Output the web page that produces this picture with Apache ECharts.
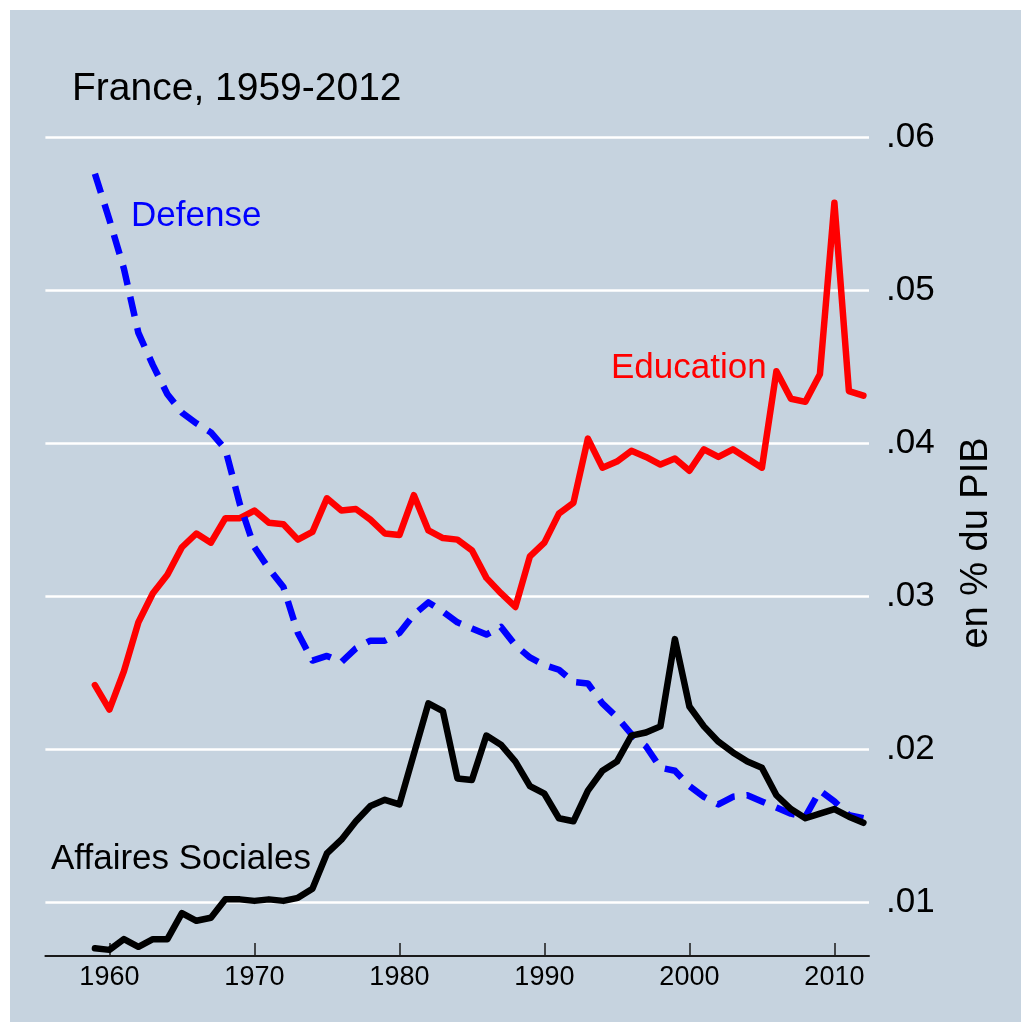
<!DOCTYPE html>
<html>
<head>
<meta charset="utf-8">
<script src="https://cdn.jsdelivr.net/npm/echarts@6/dist/echarts.min.js"></script>
<style>
  html, body { margin: 0; padding: 0; background: #ffffff; }
  #chart { width: 1021px; height: 1032px; }
</style>
</head>
<body>
<div id="chart"></div>
<script>
// ---- Data (share of GDP), France 1959-2012 ----
const years = [1959,1960,1961,1962,1963,1964,1965,1966,1967,1968,1969,1970,1971,1972,1973,1974,1975,1976,1977,1978,1979,1980,1981,1982,1983,1984,1985,1986,1987,1988,1989,1990,1991,1992,1993,1994,1995,1996,1997,1998,1999,2000,2001,2002,2003,2004,2005,2006,2007,2008,2009,2010,2011,2012];

const education = [0.0242,0.0226,0.0251,0.0283,0.0302,0.0314,0.0332,0.0341,0.0335,0.0351,0.0351,0.0356,0.0348,0.0347,0.0337,0.0342,0.0364,0.0356,0.0357,0.0350,0.0341,0.0340,0.0366,0.0343,0.0338,0.0337,0.0330,0.0312,0.0302,0.0293,0.0326,0.0335,0.0354,0.0361,0.0403,0.0384,0.0388,0.0395,0.0391,0.0386,0.0390,0.0382,0.0396,0.0391,0.0396,0.0390,0.0384,0.0447,0.0429,0.0427,0.0445,0.0557,0.0434,0.0431];

const defense = [0.0576,0.0546,0.0514,0.0472,0.0451,0.0432,0.0420,0.0413,0.0407,0.0396,0.0360,0.0332,0.0318,0.0306,0.0276,0.0258,0.0261,0.0257,0.0266,0.0271,0.0271,0.0276,0.0288,0.0296,0.0290,0.0283,0.0279,0.0275,0.0280,0.0268,0.0260,0.0255,0.0252,0.0244,0.0243,0.0230,0.0221,0.0210,0.0202,0.0188,0.0186,0.0176,0.0169,0.0164,0.0169,0.0170,0.0166,0.0162,0.0158,0.0156,0.0173,0.0166,0.0157,0.0155];

const social = [0.0070,0.0069,0.0076,0.0071,0.0076,0.0076,0.0093,0.0088,0.0090,0.0102,0.0102,0.0101,0.0102,0.0101,0.0103,0.0109,0.0132,0.0141,0.0153,0.0163,0.0167,0.0164,0.0197,0.0230,0.0225,0.0181,0.0180,0.0209,0.0203,0.0192,0.0176,0.0171,0.0155,0.0153,0.0173,0.0186,0.0192,0.0209,0.0211,0.0215,0.0272,0.0228,0.0215,0.0205,0.0198,0.0192,0.0188,0.0170,0.0161,0.0155,0.0158,0.0161,0.0156,0.0152];

const xTicks = [1960,1970,1980,1990,2000,2010];
const yTicks = [0.01,0.02,0.03,0.04,0.05,0.06];

const titleText = 'France, 1959-2012';
const yAxisTitle = 'en % du PIB';
const seriesNames = ['Education','Defense','Affaires Sociales'];

// ---- Chart ----
const FONT = '"Liberation Sans", Arial, Helvetica, sans-serif';
const BG = '#c6d3df';
const pairs = arr => years.map((y, i) => [y, arr[i]]);

const chart = echarts.init(document.getElementById('chart'), null, { renderer: 'canvas' });

const option = {
  backgroundColor: '#ffffff',
  animation: false,
  textStyle: { fontFamily: FONT },
  title: {
    text: titleText,
    left: 67,
    top: 65,
    textStyle: { fontFamily: FONT, fontSize: 39, fontWeight: 'normal', color: '#000000' }
  },
  graphic: [
    { type: 'rect', z: -100, silent: true, shape: { x: 10, y: 10, width: 1011, height: 1012 }, style: { fill: BG } },
    { type: 'text', x: 977, y: 543, rotation: Math.PI / 2, silent: true,
      style: { text: yAxisTitle, font: '38px ' + FONT, fill: '#000000', align: 'center', verticalAlign: 'middle' } },
    { type: 'text', x: 611, y: 368, silent: true,
      style: { text: seriesNames[0], font: '35px ' + FONT, fill: '#ff0000', align: 'left', verticalAlign: 'middle' } },
    { type: 'text', x: 131, y: 216, silent: true,
      style: { text: seriesNames[1], font: '35px ' + FONT, fill: '#0000ff', align: 'left', verticalAlign: 'middle' } },
    { type: 'text', x: 51, y: 859, silent: true,
      style: { text: seriesNames[2], font: '35px ' + FONT, fill: '#000000', align: 'left', verticalAlign: 'middle' } }
  ],
  grid: {
    left: 45.4, top: 137, width: 823.6, height: 819,
    containLabel: false,
    outerBoundsMode: 'none',
    show: false
  },
  xAxis: {
    type: 'value',
    min: 1955.586,
    max: 2012.386,
    axisLine: { show: true, onZero: false, lineStyle: { color: '#1a1a1a', width: 2 } },
    axisTick: { show: true, inside: true, length: 13, customValues: xTicks, lineStyle: { color: '#1a1a1a', width: 1.5 } },
    axisLabel: { show: true, customValues: xTicks, margin: 8, fontSize: 27, color: '#000000', fontFamily: FONT,
      formatter: v => String(Math.round(v)) },
    splitLine: { show: false }
  },
  yAxis: {
    type: 'value',
    position: 'right',
    min: 0.0065,
    max: 0.06,
    axisLine: { show: false },
    axisTick: { show: false, customValues: yTicks },
    axisLabel: { show: true, customValues: yTicks, margin: 17, fontSize: 35, color: '#000000', fontFamily: FONT,
      formatter: v => '.' + String(Math.round(v * 100)).padStart(2, '0') },
    splitLine: { show: true, lineStyle: { color: '#ffffff', width: 2.5 } }
  },
  series: [
    { name: seriesNames[0], type: 'line', data: pairs(education), showSymbol: false, symbol: 'none',
      lineStyle: { color: '#ff0000', width: 6.5, cap: 'round', join: 'round' }, z: 3 },
    { name: seriesNames[1], type: 'line', data: pairs(defense), showSymbol: false, symbol: 'none',
      lineStyle: { color: '#0000ff', width: 6.5, type: [20, 12], cap: 'butt', join: 'round' }, z: 4 },
    { name: seriesNames[2], type: 'line', data: pairs(social), showSymbol: false, symbol: 'none',
      lineStyle: { color: '#000000', width: 6.5, cap: 'round', join: 'round' }, z: 5 }
  ]
};

chart.setOption(option);
</script>
</body>
</html>
